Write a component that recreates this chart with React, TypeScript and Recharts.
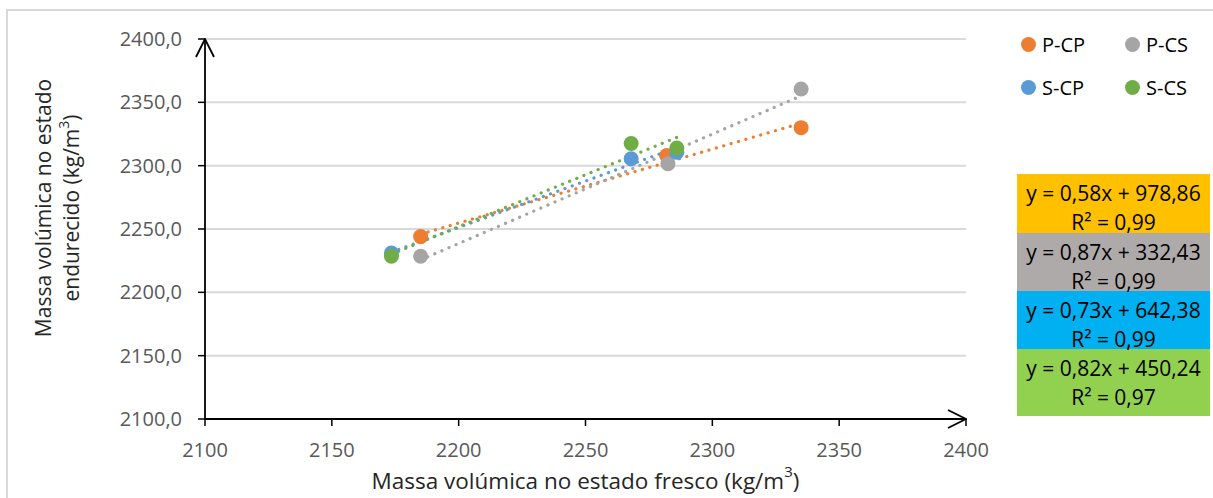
import React from "react";
import {
  CartesianGrid,
  Legend,
  ReferenceLine,
  Scatter,
  ScatterChart,
  XAxis,
  YAxis,
} from "recharts";

// fresh vs hardened density, one pair of arrays per mix
const seriesNames = ["P-CP", "P-CS", "S-CP", "S-CS"];
const seriesColors = ["#ED7D31", "#A5A5A5", "#5B9BD5", "#70AD47"];

const freshPCP = [2185, 2282, 2335];
const hardPCP = [2244, 2308, 2330];
const freshPCS = [2185, 2282.5, 2335];
const hardPCS = [2228.5, 2301.5, 2360.5];
const freshSCP = [2173.5, 2268, 2286];
const hardSCP = [2231, 2305.5, 2310.5];
const freshSCS = [2173.5, 2268, 2286];
const hardSCS = [2228.5, 2317.5, 2314];

const axisTicks = [2100, 2150, 2200, 2250, 2300, 2350, 2400];

// trendline labels
const equationLabels = [
  "y = 0,58x + 978,86",
  "y = 0,87x + 332,43",
  "y = 0,73x + 642,38",
  "y = 0,82x + 450,24",
];
const r2Labels = ["0,99", "0,99", "0,99", "0,97"];
const labelColors = ["#FFC000", "#AEAAAA", "#00B0F0", "#92D050"];

const FONT = "'Open Sans', 'Noto Sans', sans-serif";

const series = [
  { fresh: freshPCP, hard: hardPCP },
  { fresh: freshPCS, hard: hardPCS },
  { fresh: freshSCP, hard: hardSCP },
  { fresh: freshSCS, hard: hardSCS },
].map((s, i) => ({
  name: seriesNames[i],
  color: seriesColors[i],
  points: s.fresh.map((x, j) => ({ fresh: x, hard: s.hard[j] })),
  fresh: s.fresh,
  hard: s.hard,
}));

// least squares line over the range of the series
function trend(xs: number[], ys: number[]) {
  const n = xs.length;
  const mx = xs.reduce((a, b) => a + b, 0) / n;
  const my = ys.reduce((a, b) => a + b, 0) / n;
  let sxy = 0;
  let sxx = 0;
  xs.forEach((x, i) => {
    sxy += (x - mx) * (ys[i] - my);
    sxx += (x - mx) * (x - mx);
  });
  const slope = sxy / sxx;
  const b = my - slope * mx;
  const x0 = Math.min(...xs);
  const x1 = Math.max(...xs);
  return [
    { x: x0, y: slope * x0 + b },
    { x: x1, y: slope * x1 + b },
  ];
}

const dot = (color: string) => (props: any) =>
  <circle cx={props.cx} cy={props.cy} r={7.5} fill={color} />;

const fmtY = (v: number) => v.toFixed(1).replace(".", ",");

function YTitle() {
  const cy = 208;
  return (
    <g fill="#262626" fontFamily={FONT} fontSize={21}>
      <text x={43} y={cy} textAnchor="middle" dominantBaseline="central" transform={`rotate(-90 43 ${cy})`}>
        Massa volúmica no estado
      </text>
      <text x={71} y={cy} textAnchor="middle" dominantBaseline="central" transform={`rotate(-90 71 ${cy})`}>
        endurecido (kg/m<tspan dy={-8} fontSize={14}>3</tspan>
        <tspan dy={8}>)</tspan>
      </text>
    </g>
  );
}

function XTitle(props: any) {
  const { viewBox } = props;
  const cx = viewBox.x + viewBox.width / 2;
  return (
    <text x={cx} y={480} textAnchor="middle" dominantBaseline="central" fill="#262626" fontFamily={FONT} fontSize={22.5}>
      Massa volúmica no estado fresco (kg/m<tspan dy={-9} fontSize={15}>3</tspan>
      <tspan dy={9}>)</tspan>
    </text>
  );
}

function LegendBox() {
  return (
    <div style={{ display: "grid", gridTemplateColumns: "104px 80px", fontFamily: FONT, fontSize: 20, color: "#000" }}>
      {seriesNames.map((n, i) => (
        <div key={n} style={{ display: "flex", alignItems: "center", height: 43 }}>
          <span style={{ width: 15, height: 15, borderRadius: "50%", background: seriesColors[i], display: "inline-block" }} />
          <span style={{ marginLeft: 6 }}>{n}</span>
        </div>
      ))}
    </div>
  );
}

const boxHeights = [59, 58, 58, 67];

export default function App() {
  return (
    <div style={{ position: "absolute", left: 0, top: 0, width: 1213, height: 498, background: "#fff", overflow: "hidden" }}>
      <svg width={0} height={0} style={{ position: "absolute" }}>
        <defs>
          <marker id="axisArrow" viewBox="0 0 20 20" refX={19} refY={10} markerWidth={20} markerHeight={20} markerUnits="userSpaceOnUse" orient="auto-start-reverse">
            <path d="M1,1 L19,10 L1,19" fill="none" stroke="#000" strokeWidth={1.8} />
          </marker>
        </defs>
      </svg>
      <div style={{ position: "absolute", left: 6, top: 9, width: 1213, height: 498, borderLeft: "2px solid #d9d9d9", borderTop: "2px solid #d9d9d9" }} />
      <div style={{ position: "absolute", left: 0, top: 0 }}>
        <ScatterChart width={1213} height={498} margin={{ top: 39, right: 247, bottom: 0, left: 0 }}>
          <CartesianGrid vertical={false} stroke="#d9d9d9" strokeWidth={2} />
          <XAxis
            type="number"
            dataKey="fresh"
            domain={[2100, 2400]}
            ticks={axisTicks}
            height={79}
            tickSize={7}
            tickMargin={17}
            tick={{ fill: "#595959", fontSize: 20, fontFamily: FONT }}
            tickLine={{ stroke: "#000", strokeWidth: 1.5 }}
            axisLine={{ stroke: "#000", strokeWidth: 1.8, markerEnd: "url(#axisArrow)" }}
            label={<XTitle />}
          />
          <YAxis
            type="number"
            dataKey="hard"
            domain={[2100, 2400]}
            ticks={axisTicks}
            width={205}
            tickSize={7}
            tickMargin={16}
            tickFormatter={fmtY}
            tick={{ fill: "#595959", fontSize: 20, fontFamily: FONT }}
            tickLine={{ stroke: "#000", strokeWidth: 1.5 }}
            axisLine={{ stroke: "#000", strokeWidth: 1.8, markerStart: "url(#axisArrow)" }}
            label={<YTitle />}
          />
          {series.map((s) => (
            <Scatter
              key={s.name}
              name={s.name}
              data={s.points}
              fill={s.color}
              shape={dot(s.color)}
              isAnimationActive={false}
            />
          ))}
          {series.map((s) => (
            <ReferenceLine
              key={`trend-${s.name}`}
              segment={trend(s.fresh, s.hard)}
              stroke={s.color}
              strokeWidth={3.2}
              strokeDasharray="0.1 7.6"
              strokeLinecap="round"
              ifOverflow="visible"
            />
          ))}
          <Legend
            layout="horizontal"
            verticalAlign="middle"
            align="center"
            content={() => <LegendBox />}
            wrapperStyle={{ position: "absolute", left: 1021, top: 23, width: 190, height: 90 }}
          />
        </ScatterChart>
      </div>
      <div style={{ position: "absolute", left: 1017, top: 174, width: 193 }}>
        {equationLabels.map((eq, i) => (
          <div
            key={eq}
            style={{
              height: boxHeights[i],
              background: labelColors[i],
              fontFamily: FONT,
              fontSize: 21,
              color: "#000",
              textAlign: "center",
              lineHeight: "29px",
              paddingTop: 5,
              boxSizing: "border-box",
            }}
          >
            <div>{eq}</div>
            <div>
              R² = {r2Labels[i]}
            </div>
          </div>
        ))}
      </div>
    </div>
  );
}
